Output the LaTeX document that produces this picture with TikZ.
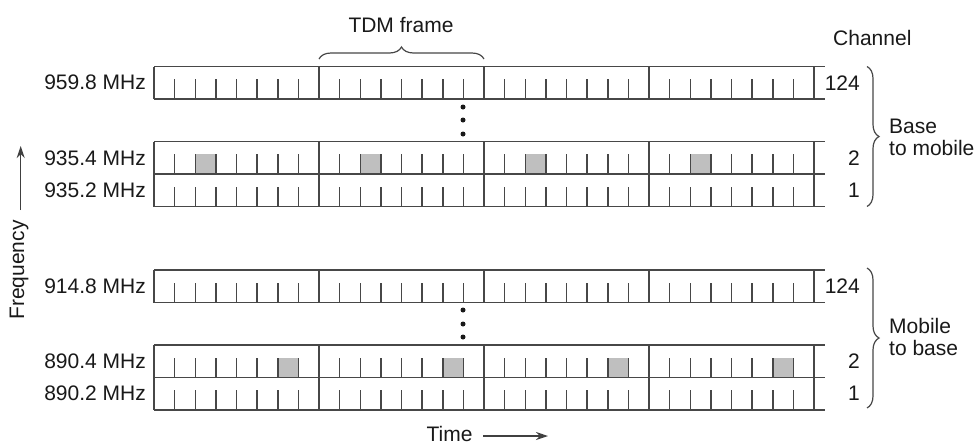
\documentclass[tikz,border=0pt]{standalone}
\usepackage{fontspec}
\setmainfont{Liberation Sans}
\usetikzlibrary{decorations.pathreplacing,arrows.meta}
\newcommand{\tdmrow}[3]{%
  \pgfmathsetmacro\tdmbot{#1+#2}%
  \pgfmathsetmacro\tdmtick{\tdmbot-20}%
  \ifnum#3>-1
    \foreach \f in {0,...,3} {\fill[slotfill] ({154+\f*165+#3*20.625},\tdmtick) rectangle ++(20.625,20);}
  \fi
  \draw[rowline] (154,#1) -- (825,#1) (154,\tdmbot) -- (825,\tdmbot);
  \foreach \f in {0,...,4} {\draw[rowline] ({154+\f*165},#1) -- ({154+\f*165},\tdmbot);}
  \foreach \f in {0,...,3} {\foreach \k in {1,...,7} {\draw[tickline] ({154+\f*165+\k*20.625},\tdmbot) -- ++(0,-20);}}
}
\begin{document}
\begin{tikzpicture}[x=1pt,y=-1pt,
  rowline/.style={line width=1.5pt, draw=black!72},
  tickline/.style={line width=1.5pt, draw=black!72},
  slotfill/.style={fill=black!25},
  lbl/.style={font=\fontsize{21}{24}\selectfont, inner sep=0pt, text=black!90},
  bracestyle/.style={draw=black!72, line width=1.2pt, decorate, decoration={brace, amplitude=12pt}},
  axisarrow/.style={line width=1.3pt, draw=black!75, -{Stealth[length=12pt,width=8pt]}},
  dotstyle/.style={fill=black!90}]
\useasboundingbox (0,0) rectangle (979,445);
\fill[white] (0,0) rectangle (979,445);
% rows
\tdmrow{66.5}{32.5}{-1}
\tdmrow{141.7}{32.5}{2}
\tdmrow{174.2}{32.5}{-1}
\tdmrow{270}{32.5}{-1}
\tdmrow{345}{32.5}{6}
\tdmrow{377.5}{32.5}{-1}
% dots
\foreach \y in {107,120,134,310,324,337} {\fill[dotstyle] (463,\y) circle (2.5);}
% frequency labels
\node[lbl, anchor=east] (f1) at (146,82.75) {959.8 MHz};
\node[lbl, anchor=east] (f2) at (146,158) {935.4 MHz};
\node[lbl, anchor=east] (f3) at (146,190.5) {935.2 MHz};
\node[lbl, anchor=east] (f4) at (146,286.25) {914.8 MHz};
\node[lbl, anchor=east] (f5) at (146,361.25) {890.4 MHz};
\node[lbl, anchor=east] (f6) at (146,393.75) {890.2 MHz};
% channel numbers
\node[lbl, anchor=east] (c1) at (860,83) {124};
\node[lbl, anchor=east] (c2) at (860,158) {2};
\node[lbl, anchor=east] (c3) at (860,190.5) {1};
\node[lbl, anchor=east] (c4) at (860,286.25) {124};
\node[lbl, anchor=east] (c5) at (860,361.25) {2};
\node[lbl, anchor=east] (c6) at (860,393.75) {1};
\node[lbl, anchor=west] (chan) at (833,38) {Channel};
% TDM frame
\node[lbl] (tdm) at (401,25) {TDM frame};
\draw[bracestyle] (319,59) -- (484,59);
% right braces
\draw[bracestyle] (867,66.5) -- (867,206.5);
\draw[bracestyle] (867,268) -- (867,408);
\node[lbl, anchor=west] (b1) at (889,126) {Base};
\node[lbl, anchor=west] (b2) at (889,148) {to mobile};
\node[lbl, anchor=west] (m1) at (889,326) {Mobile};
\node[lbl, anchor=west] (m2) at (889,348) {to base};
% axes
\node[lbl, rotate=90] (freq) at (19,270) {Frequency};
\coordinate (fa) at (20.7,210);
\coordinate (fb) at (20.7,146);
\draw[axisarrow] (fa) -- (fb);
\node[lbl] (time) at (449.5,434) {Time};
\coordinate (ta) at (483,436);
\coordinate (tb) at (548,436);
\draw[axisarrow] (ta) -- (tb);
\end{tikzpicture}
\end{document}
